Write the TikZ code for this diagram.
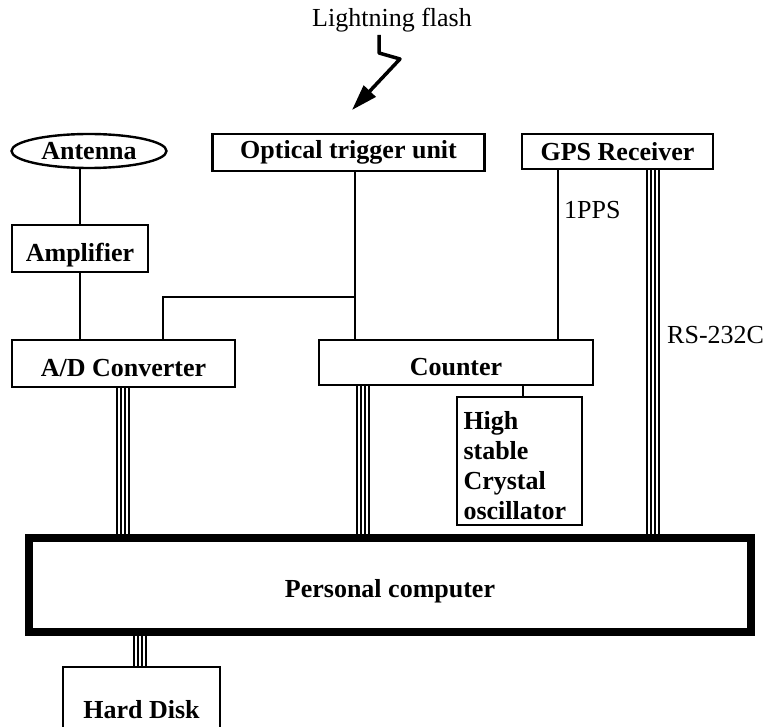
\documentclass[tikz,border=0pt]{standalone}
\usepackage{fontspec}
\setmainfont{Liberation Serif}
\usetikzlibrary{arrows.meta,shapes.geometric}

\begin{document}
\begin{tikzpicture}[x=1pt,y=-1pt,
  box/.style={draw,line width=2.4pt,inner sep=0pt,
    font=\fontsize{26}{30}\selectfont\bfseries},
  lift/.style={text height=26pt,text depth=0pt},
  wire/.style={line width=2.4pt},
  strand/.style={line width=1.8pt},
  lbl/.style={font=\fontsize{26}{30}\selectfont,inner sep=0pt}]
\useasboundingbox (0,0) rectangle (768,727);
\clip (0,0) rectangle (768,727);

% blocks
\node[box,ellipse,inner ysep=0pt,text height=17.6pt,text depth=0pt,
  minimum width=155pt,minimum height=34pt] (ant) at (89,151) {Antenna};
\node[box,minimum width=272pt,minimum height=37pt] (opt) at (348.5,152.5) {Optical trigger unit};
\node[box,minimum width=191pt,minimum height=35pt] (gps) at (617.5,151.5) {GPS Receiver};
\node[box,lift,minimum width=136pt,minimum height=47pt] (amp) at (80,248.5) {Amplifier};
\node[box,lift,minimum width=223pt,minimum height=47pt] (ad) at (123.5,363.5) {A/D Converter};
\node[box,lift,minimum width=274pt,minimum height=45pt] (cnt) at (456,362.5) {Counter};
\node[box,minimum width=125pt,minimum height=128pt,align=left,text width=112pt]
  (osc) at (519.5,461) {\rule{0pt}{27pt}High\\stable\\Crystal\\oscillator};
\node[box,lift,line width=8pt,minimum width=722pt,minimum height=94pt] (pc) at (390,584.5) {Personal computer};
\node[box,lift,minimum width=157pt,minimum height=76pt] (hd) at (141.5,705) {Hard Disk};

% lightning flash
\node[lbl] (flash) at (392,20) {Lightning flash};
\coordinate (boltA) at (379,35);
\coordinate (boltB) at (379,53);
\coordinate (boltC) at (400,59);
\coordinate (boltD) at (352,110);
\draw[line width=3.5pt,line join=round,-{Triangle[length=26pt,width=16pt]}]
  (boltA) -- (boltB) -- (boltC) -- (boltD);

% single signal lines
\draw[wire] (ant.south -| amp.north) -- (amp.north);
\draw[wire] (amp.south) -- (amp.south |- ad.north);
\coordinate (j) at (355,297);
\draw[wire] (opt.south -| j) -- (j |- cnt.north);
\draw[wire] (j) -| ([xshift=39.5pt]ad.north);
\draw[wire] ([xshift=-59.5pt]gps.south) -- ([xshift=-59.5pt]gps.south |- cnt.north);
\node[lbl,anchor=west] (pps) at (564,210) {1PPS};
\draw[wire] ([xshift=3.5pt]osc.north) -- ([xshift=3.5pt]osc.north |- cnt.south);

% multi-wire cables
\foreach \dx in {-6,-2,2,6} {
  \draw[strand] ([xshift=\dx pt-0.5pt]ad.south) -- ([xshift=\dx pt-0.5pt]ad.south |- pc.north);
  \draw[strand] ([xshift=\dx pt-93pt]cnt.south) -- ([xshift=\dx pt-93pt]cnt.south |- pc.north);
  \draw[strand] ([xshift=\dx pt+35.5pt]gps.south) -- ([xshift=\dx pt+35.5pt]gps.south |- pc.north);
  \draw[strand] ([xshift=\dx pt-1.5pt]hd.north) -- ([xshift=\dx pt-1.5pt]hd.north |- pc.south);
}
\node[lbl,anchor=west] (rs) at (667,335) {RS-232C};
\end{tikzpicture}
\end{document}
